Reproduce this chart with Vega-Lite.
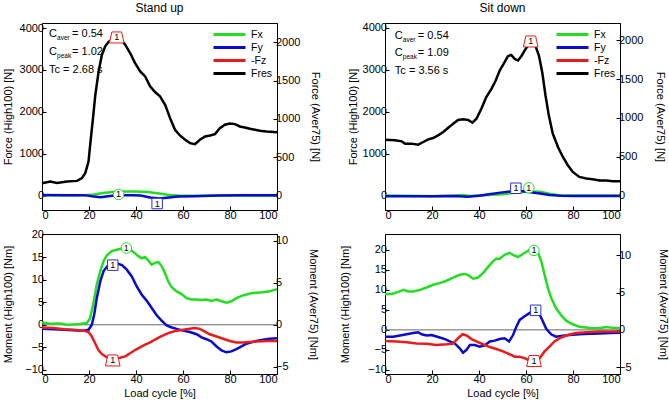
{
  "$schema": "https://vega.github.io/schema/vega-lite/v6.json",
  "padding": {"left": 1, "top": 1, "right": 0, "bottom": 0},
  "background": "white",
  "config": {
    "font": "Liberation Sans",
    "numberFormat": "d",
    "view": {"stroke": "black", "strokeWidth": 1},
    "axis": {"grid": false, "labelFontSize": 11, "titleFontSize": 11, "titleFontWeight": "normal", "labelColor": "black", "titleColor": "black", "domainColor": "black", "tickColor": "black", "tickSize": -4, "domainWidth": 1, "tickWidth": 1, "labelFont": "Liberation Sans", "titleFont": "Liberation Sans"},
    "axisX": {"labelPadding": 3, "titlePadding": 3},
    "axisY": {"labelPadding": 2.5},
    "legend": {"title": null, "orient": "top-right", "offset": 5, "symbolType": "stroke", "symbolSize": 1024, "symbolStrokeWidth": 3, "clipHeight": 13, "labelFontSize": 10.5, "labelFont": "Liberation Sans", "labelColor": "black", "padding": 0, "labelOffset": 4, "rowPadding": 0},
    "title": {"fontSize": 12, "fontWeight": "normal", "color": "black", "offset": 7, "font": "Liberation Sans"}
  },
  "datasets": {
    "fTL": [
      {"s":"Fx","x":0,"v":10},{"s":"Fx","x":10,"v":5},{"s":"Fx","x":18,"v":5},{"s":"Fx","x":22,"v":25},{"s":"Fx","x":26,"v":60},{"s":"Fx","x":30,"v":85},{"s":"Fx","x":35,"v":95},{"s":"Fx","x":40,"v":95},{"s":"Fx","x":45,"v":85},{"s":"Fx","x":50,"v":50},{"s":"Fx","x":54,"v":15},{"s":"Fx","x":58,"v":0},{"s":"Fx","x":65,"v":-5},{"s":"Fx","x":80,"v":0},{"s":"Fx","x":100,"v":0},
      {"s":"Fy","x":0,"v":15},{"s":"Fy","x":10,"v":10},{"s":"Fy","x":18,"v":10},{"s":"Fy","x":22,"v":-20},{"s":"Fy","x":25,"v":-40},{"s":"Fy","x":28,"v":-15},{"s":"Fy","x":32,"v":5},{"s":"Fy","x":38,"v":10},{"s":"Fy","x":42,"v":0},{"s":"Fy","x":46,"v":-45},{"s":"Fy","x":50,"v":-70},{"s":"Fy","x":54,"v":-45},{"s":"Fy","x":58,"v":-25},{"s":"Fy","x":65,"v":-15},{"s":"Fy","x":75,"v":0},{"s":"Fy","x":85,"v":5},{"s":"Fy","x":100,"v":5},
      {"s":"Fres","x":0,"v":295},{"s":"Fres","x":3.5,"v":335},{"s":"Fres","x":6.4,"v":300},{"s":"Fres","x":10.6,"v":335},{"s":"Fres","x":14.9,"v":350},{"s":"Fres","x":17,"v":415},{"s":"Fres","x":18.4,"v":534},{"s":"Fres","x":19.8,"v":813},{"s":"Fres","x":20.5,"v":1211},{"s":"Fres","x":21.7,"v":1849},{"s":"Fres","x":22.7,"v":2407},{"s":"Fres","x":24.1,"v":2965},{"s":"Fres","x":25.5,"v":3363},{"s":"Fres","x":26.9,"v":3563},{"s":"Fres","x":28.3,"v":3666},{"s":"Fres","x":29.7,"v":3722},{"s":"Fres","x":31.8,"v":3750},{"s":"Fres","x":34,"v":3700},{"s":"Fres","x":35.4,"v":3602},{"s":"Fres","x":37.5,"v":3403},{"s":"Fres","x":39.6,"v":3164},{"s":"Fres","x":41.8,"v":2965},{"s":"Fres","x":43.9,"v":2845},{"s":"Fres","x":46,"v":2606},{"s":"Fres","x":48.1,"v":2471},{"s":"Fres","x":50.2,"v":2367},{"s":"Fres","x":52.4,"v":2168},{"s":"Fres","x":54.5,"v":1849},{"s":"Fres","x":56.6,"v":1570},{"s":"Fres","x":58.7,"v":1435},{"s":"Fres","x":60.9,"v":1331},{"s":"Fres","x":63,"v":1251},{"s":"Fres","x":65.1,"v":1227},{"s":"Fres","x":67.2,"v":1331},{"s":"Fres","x":69.4,"v":1411},{"s":"Fres","x":71.5,"v":1435},{"s":"Fres","x":73.6,"v":1467},{"s":"Fres","x":75.7,"v":1610},{"s":"Fres","x":77.8,"v":1690},{"s":"Fres","x":79.9,"v":1721},{"s":"Fres","x":82.1,"v":1706},{"s":"Fres","x":84.2,"v":1650},{"s":"Fres","x":86.3,"v":1626},{"s":"Fres","x":88.5,"v":1594},{"s":"Fres","x":90.6,"v":1570},{"s":"Fres","x":92.7,"v":1546},{"s":"Fres","x":95.5,"v":1530},{"s":"Fres","x":100,"v":1514}
    ],
    "fTR": [
      {"s":"Fx","x":0,"v":0},{"s":"Fx","x":15,"v":-10},{"s":"Fx","x":20,"v":-15},{"s":"Fx","x":30,"v":0},{"s":"Fx","x":33,"v":10},{"s":"Fx","x":36,"v":-10},{"s":"Fx","x":40,"v":0},{"s":"Fx","x":50,"v":30},{"s":"Fx","x":56,"v":70},{"s":"Fx","x":62,"v":95},{"s":"Fx","x":66,"v":90},{"s":"Fx","x":70,"v":40},{"s":"Fx","x":74,"v":5},{"s":"Fx","x":80,"v":0},{"s":"Fx","x":100,"v":0},
      {"s":"Fy","x":0,"v":-15},{"s":"Fy","x":20,"v":-15},{"s":"Fy","x":30,"v":-10},{"s":"Fy","x":35,"v":-30},{"s":"Fy","x":40,"v":-5},{"s":"Fy","x":45,"v":35},{"s":"Fy","x":50,"v":75},{"s":"Fy","x":55,"v":110},{"s":"Fy","x":58,"v":110},{"s":"Fy","x":62,"v":80},{"s":"Fy","x":66,"v":50},{"s":"Fy","x":70,"v":10},{"s":"Fy","x":75,"v":-5},{"s":"Fy","x":80,"v":-10},{"s":"Fy","x":100,"v":-10},
      {"s":"Fres","x":0,"v":1331},{"s":"Fres","x":4.2,"v":1315},{"s":"Fres","x":7.1,"v":1291},{"s":"Fres","x":8.5,"v":1236},{"s":"Fres","x":11.3,"v":1236},{"s":"Fres","x":14.1,"v":1212},{"s":"Fres","x":16.3,"v":1275},{"s":"Fres","x":18.4,"v":1338},{"s":"Fres","x":20.5,"v":1370},{"s":"Fres","x":22.6,"v":1434},{"s":"Fres","x":24.8,"v":1513},{"s":"Fres","x":26.9,"v":1616},{"s":"Fres","x":29,"v":1711},{"s":"Fres","x":31.1,"v":1798},{"s":"Fres","x":33.2,"v":1814},{"s":"Fres","x":35.4,"v":1798},{"s":"Fres","x":37.2,"v":1734},{"s":"Fres","x":38.9,"v":1830},{"s":"Fres","x":41,"v":2067},{"s":"Fres","x":43.1,"v":2344},{"s":"Fres","x":45.3,"v":2542},{"s":"Fres","x":47.1,"v":2740},{"s":"Fres","x":48.8,"v":2978},{"s":"Fres","x":50.9,"v":3176},{"s":"Fres","x":52.3,"v":3318},{"s":"Fres","x":53.7,"v":3350},{"s":"Fres","x":55.2,"v":3255},{"s":"Fres","x":56.6,"v":3216},{"s":"Fres","x":58,"v":3318},{"s":"Fres","x":59.4,"v":3453},{"s":"Fres","x":60.8,"v":3572},{"s":"Fres","x":62.2,"v":3612},{"s":"Fres","x":64.1,"v":3556},{"s":"Fres","x":65.5,"v":3334},{"s":"Fres","x":66.9,"v":2938},{"s":"Fres","x":68.3,"v":2384},{"s":"Fres","x":69.7,"v":1909},{"s":"Fres","x":71.4,"v":1473},{"s":"Fres","x":73.6,"v":1156},{"s":"Fres","x":75.7,"v":919},{"s":"Fres","x":77.8,"v":721},{"s":"Fres","x":79.9,"v":562},{"s":"Fres","x":82.7,"v":443},{"s":"Fres","x":85.6,"v":404},{"s":"Fres","x":88.4,"v":388},{"s":"Fres","x":91.2,"v":356},{"s":"Fres","x":94.1,"v":356},{"s":"Fres","x":96.9,"v":341},{"s":"Fres","x":100,"v":341}
    ],
    "mBL": [
      {"s":"Mx","x":0,"v":0.52},{"s":"Mx","x":3.5,"v":0.22},{"s":"Mx","x":7.8,"v":0.3},{"s":"Mx","x":10.6,"v":0},{"s":"Mx","x":13.4,"v":0.07},{"s":"Mx","x":16.3,"v":0.15},{"s":"Mx","x":19.1,"v":0.37},{"s":"Mx","x":20.5,"v":1.5},{"s":"Mx","x":21.9,"v":4.8},{"s":"Mx","x":23.3,"v":8.9},{"s":"Mx","x":24.8,"v":11.9},{"s":"Mx","x":26.2,"v":14.1},{"s":"Mx","x":27.6,"v":15.4},{"s":"Mx","x":29.7,"v":16.3},{"s":"Mx","x":31.8,"v":16.6},{"s":"Mx","x":34,"v":16.9},{"s":"Mx","x":36.8,"v":16.9},{"s":"Mx","x":38.9,"v":16.1},{"s":"Mx","x":41,"v":15.2},{"s":"Mx","x":42.4,"v":14.7},{"s":"Mx","x":43.9,"v":15},{"s":"Mx","x":45.3,"v":14.2},{"s":"Mx","x":46.7,"v":13.3},{"s":"Mx","x":48.1,"v":13.7},{"s":"Mx","x":49.5,"v":13.9},{"s":"Mx","x":50.9,"v":13},{"s":"Mx","x":52.3,"v":11.5},{"s":"Mx","x":53.7,"v":9.6},{"s":"Mx","x":55.2,"v":8.3},{"s":"Mx","x":57.3,"v":7.4},{"s":"Mx","x":59.4,"v":6.8},{"s":"Mx","x":61.5,"v":5.9},{"s":"Mx","x":63.7,"v":5.6},{"s":"Mx","x":65.8,"v":5.6},{"s":"Mx","x":67.9,"v":5.5},{"s":"Mx","x":70,"v":5.6},{"s":"Mx","x":72.1,"v":5.3},{"s":"Mx","x":74.3,"v":5.6},{"s":"Mx","x":76.4,"v":5.2},{"s":"Mx","x":78.5,"v":4.9},{"s":"Mx","x":80.6,"v":5.2},{"s":"Mx","x":82.7,"v":5.9},{"s":"Mx","x":84.9,"v":6.4},{"s":"Mx","x":87,"v":6.7},{"s":"Mx","x":89.1,"v":7},{"s":"Mx","x":91.2,"v":7.1},{"s":"Mx","x":94.1,"v":7.2},{"s":"Mx","x":96.9,"v":7.4},{"s":"Mx","x":100,"v":7.9},
      {"s":"My","x":0,"v":-0.9},{"s":"My","x":5,"v":-1.0},{"s":"My","x":9.2,"v":-1.1},{"s":"My","x":13.4,"v":-1.2},{"s":"My","x":17.7,"v":-1.3},{"s":"My","x":19.8,"v":-1.1},{"s":"My","x":21.2,"v":0},{"s":"My","x":22.2,"v":2.2},{"s":"My","x":23.3,"v":5.9},{"s":"My","x":24.8,"v":9.6},{"s":"My","x":26.2,"v":11.9},{"s":"My","x":27.9,"v":13},{"s":"My","x":29.7,"v":13.5},{"s":"My","x":31.8,"v":13.6},{"s":"My","x":34,"v":13.2},{"s":"My","x":36.1,"v":12.2},{"s":"My","x":38.2,"v":10.7},{"s":"My","x":40.3,"v":8.5},{"s":"My","x":42.4,"v":6.7},{"s":"My","x":44.6,"v":5.3},{"s":"My","x":46.7,"v":3.7},{"s":"My","x":48.8,"v":2.1},{"s":"My","x":50.9,"v":0.9},{"s":"My","x":53,"v":-0.15},{"s":"My","x":55.2,"v":-0.6},{"s":"My","x":57.3,"v":-0.9},{"s":"My","x":60.1,"v":-1.3},{"s":"My","x":62.9,"v":-1.6},{"s":"My","x":65.8,"v":-2.1},{"s":"My","x":67.9,"v":-2.8},{"s":"My","x":70,"v":-3.2},{"s":"My","x":72.1,"v":-3.7},{"s":"My","x":74.3,"v":-4.8},{"s":"My","x":76.4,"v":-5.7},{"s":"My","x":78.5,"v":-6.1},{"s":"My","x":80.6,"v":-5.9},{"s":"My","x":82.7,"v":-5.4},{"s":"My","x":84.9,"v":-4.8},{"s":"My","x":87,"v":-4.2},{"s":"My","x":89.1,"v":-3.9},{"s":"My","x":91.2,"v":-3.6},{"s":"My","x":94.1,"v":-3.3},{"s":"My","x":96.9,"v":-3.1},{"s":"My","x":100,"v":-3.0},
      {"s":"Mz","x":0,"v":-0.6},{"s":"Mz","x":5,"v":-0.7},{"s":"Mz","x":9.2,"v":-1.0},{"s":"Mz","x":13.4,"v":-1.1},{"s":"Mz","x":17.7,"v":-1.3},{"s":"Mz","x":19.8,"v":-1.6},{"s":"Mz","x":21.2,"v":-2.6},{"s":"Mz","x":22.6,"v":-4.1},{"s":"Mz","x":24,"v":-5.6},{"s":"Mz","x":25.5,"v":-6.5},{"s":"Mz","x":27.6,"v":-7.2},{"s":"Mz","x":29.7,"v":-7.4},{"s":"Mz","x":33.2,"v":-7.3},{"s":"Mz","x":35.4,"v":-7.0},{"s":"Mz","x":37.5,"v":-6.3},{"s":"Mz","x":39.6,"v":-5.6},{"s":"Mz","x":41.7,"v":-5.0},{"s":"Mz","x":43.9,"v":-4.4},{"s":"Mz","x":46,"v":-3.9},{"s":"Mz","x":48.1,"v":-3.3},{"s":"Mz","x":50.2,"v":-2.7},{"s":"Mz","x":52.3,"v":-2.2},{"s":"Mz","x":54.5,"v":-1.7},{"s":"Mz","x":57.3,"v":-1.3},{"s":"Mz","x":60.1,"v":-1.1},{"s":"Mz","x":62.9,"v":-0.9},{"s":"Mz","x":65,"v":-0.7},{"s":"Mz","x":67.2,"v":-0.9},{"s":"Mz","x":69.3,"v":-1.5},{"s":"Mz","x":71.4,"v":-2.1},{"s":"Mz","x":74.3,"v":-2.6},{"s":"Mz","x":77.1,"v":-3.1},{"s":"Mz","x":79.9,"v":-3.6},{"s":"Mz","x":82.7,"v":-3.9},{"s":"Mz","x":85.6,"v":-3.9},{"s":"Mz","x":88.4,"v":-3.8},{"s":"Mz","x":91.2,"v":-3.7},{"s":"Mz","x":95.5,"v":-3.6},{"s":"Mz","x":100,"v":-3.6}
    ],
    "mBR": [
      {"s":"Mx","x":0,"v":9.0},{"s":"Mx","x":2.8,"v":9.0},{"s":"Mx","x":5.7,"v":9.5},{"s":"Mx","x":7.8,"v":10},{"s":"Mx","x":9.9,"v":9.6},{"s":"Mx","x":12,"v":9.6},{"s":"Mx","x":14.9,"v":10},{"s":"Mx","x":17.7,"v":10.6},{"s":"Mx","x":20.5,"v":11.3},{"s":"Mx","x":23.3,"v":11.7},{"s":"Mx","x":26.2,"v":12.3},{"s":"Mx","x":29,"v":13.1},{"s":"Mx","x":31.8,"v":13.8},{"s":"Mx","x":34,"v":14.0},{"s":"Mx","x":35.4,"v":13.7},{"s":"Mx","x":37.5,"v":12.8},{"s":"Mx","x":39.6,"v":13.1},{"s":"Mx","x":41.7,"v":14.2},{"s":"Mx","x":43.8,"v":15.7},{"s":"Mx","x":46,"v":17.2},{"s":"Mx","x":47.4,"v":17.8},{"s":"Mx","x":48.8,"v":17.8},{"s":"Mx","x":50.9,"v":18.8},{"s":"Mx","x":53,"v":19.3},{"s":"Mx","x":54.5,"v":18.8},{"s":"Mx","x":56.6,"v":18.2},{"s":"Mx","x":58.7,"v":19.0},{"s":"Mx","x":60.8,"v":19.8},{"s":"Mx","x":62.9,"v":20.4},{"s":"Mx","x":65.1,"v":19.3},{"s":"Mx","x":66.5,"v":17.2},{"s":"Mx","x":67.9,"v":13.8},{"s":"Mx","x":69.3,"v":10.5},{"s":"Mx","x":70.7,"v":8.0},{"s":"Mx","x":72.8,"v":5.4},{"s":"Mx","x":75,"v":3.6},{"s":"Mx","x":77.1,"v":2.3},{"s":"Mx","x":79.9,"v":1.4},{"s":"Mx","x":82.7,"v":0.8},{"s":"Mx","x":85.6,"v":0.6},{"s":"Mx","x":88.4,"v":0.4},{"s":"Mx","x":91.2,"v":0.4},{"s":"Mx","x":94.1,"v":0.7},{"s":"Mx","x":96.9,"v":0.5},{"s":"Mx","x":100,"v":0.4},
      {"s":"My","x":0,"v":-1.7},{"s":"My","x":3.5,"v":-1.7},{"s":"My","x":6.4,"v":-1.4},{"s":"My","x":9.2,"v":-1.1},{"s":"My","x":12,"v":-0.8},{"s":"My","x":14.1,"v":-0.6},{"s":"My","x":15.6,"v":-1.1},{"s":"My","x":17.7,"v":-1.4},{"s":"My","x":19.8,"v":-1.3},{"s":"My","x":22.6,"v":-1.8},{"s":"My","x":25.5,"v":-2.3},{"s":"My","x":27.6,"v":-2.9},{"s":"My","x":29.7,"v":-3.4},{"s":"My","x":31.8,"v":-4.6},{"s":"My","x":33.2,"v":-5.7},{"s":"My","x":34.7,"v":-5.0},{"s":"My","x":36.1,"v":-3.8},{"s":"My","x":38.2,"v":-3.8},{"s":"My","x":40.3,"v":-4.2},{"s":"My","x":42.4,"v":-3.9},{"s":"My","x":44.6,"v":-2.9},{"s":"My","x":46.7,"v":-2.7},{"s":"My","x":48.8,"v":-2.3},{"s":"My","x":50.9,"v":-2.1},{"s":"My","x":52.8,"v":-2.9},{"s":"My","x":54.5,"v":-1.3},{"s":"My","x":55.9,"v":0.8},{"s":"My","x":57.3,"v":2.5},{"s":"My","x":59.4,"v":3.4},{"s":"My","x":61.5,"v":4.2},{"s":"My","x":63.6,"v":5.0},{"s":"My","x":65.5,"v":4.2},{"s":"My","x":67.2,"v":2.1},{"s":"My","x":68.6,"v":0.25},{"s":"My","x":70.7,"v":-1.1},{"s":"My","x":72.8,"v":-1.7},{"s":"My","x":75.7,"v":-1.5},{"s":"My","x":78.5,"v":-1.3},{"s":"My","x":82.7,"v":-1.1},{"s":"My","x":87,"v":-1.0},{"s":"My","x":91.2,"v":-0.9},{"s":"My","x":95.5,"v":-0.8},{"s":"My","x":100,"v":-0.75},
      {"s":"Mz","x":0,"v":-2.8},{"s":"Mz","x":5,"v":-2.9},{"s":"Mz","x":9.2,"v":-3.1},{"s":"Mz","x":13.4,"v":-3.4},{"s":"Mz","x":17.7,"v":-3.5},{"s":"Mz","x":21.9,"v":-3.8},{"s":"Mz","x":26.2,"v":-3.6},{"s":"Mz","x":29,"v":-3.4},{"s":"Mz","x":31.1,"v":-2.1},{"s":"Mz","x":33,"v":-1.1},{"s":"Mz","x":34.7,"v":-1.4},{"s":"Mz","x":36.8,"v":-2.3},{"s":"Mz","x":38.9,"v":-2.9},{"s":"Mz","x":41.7,"v":-3.6},{"s":"Mz","x":44.6,"v":-4.3},{"s":"Mz","x":47.4,"v":-4.8},{"s":"Mz","x":50.2,"v":-5.4},{"s":"Mz","x":53,"v":-6.1},{"s":"Mz","x":55.2,"v":-6.7},{"s":"Mz","x":57.3,"v":-6.7},{"s":"Mz","x":59.4,"v":-7.1},{"s":"Mz","x":61.5,"v":-7.7},{"s":"Mz","x":63.6,"v":-8.0},{"s":"Mz","x":65.8,"v":-7.1},{"s":"Mz","x":67.9,"v":-5.4},{"s":"Mz","x":70,"v":-4.2},{"s":"Mz","x":72.1,"v":-2.9},{"s":"Mz","x":75,"v":-1.9},{"s":"Mz","x":77.8,"v":-1.3},{"s":"Mz","x":81.3,"v":-0.8},{"s":"Mz","x":85.6,"v":-0.6},{"s":"Mz","x":91.2,"v":-0.4},{"s":"Mz","x":100,"v":-0.4}
    ],
    "marks": [
      {"p":"TL","x":31.8,"v":3775,"k":"-Fz","lab":"1"},{"p":"TL","x":32.6,"v":26,"k":"Fx","lab":"1"},{"p":"TL","x":49,"v":-190,"k":"Fy","lab":"1"},
      {"p":"TR","x":62,"v":3670,"k":"-Fz","lab":"1"},{"p":"TR","x":55.7,"v":173,"k":"Fy","lab":"1"},{"p":"TR","x":61.2,"v":185,"k":"Fx","lab":"1"},
      {"p":"BL","x":35.9,"v":17.0,"k":"Mx","lab":"1"},{"p":"BL","x":30.1,"v":13.2,"k":"My","lab":"1"},{"p":"BL","x":30.1,"v":-7.9,"k":"Mz","lab":"1"},
      {"p":"BR","x":63.4,"v":19.9,"k":"Mx","lab":"1"},{"p":"BR","x":64.1,"v":4.9,"k":"My","lab":"1"},{"p":"BR","x":63.4,"v":-7.8,"k":"Mz","lab":"1"}
    ],
    "notes": [
      {"p":"TL","x":3,"v":3848,"main":"C","sub":"aver","rest":"= 0.54"},
      {"p":"TL","x":3,"v":3429,"main":"C","sub":"peak","rest":"= 1.02"},
      {"p":"TL","x":3,"v":3007,"main":"Tc  = 2.68 s","sub":"","rest":""},
      {"p":"TR","x":4.2,"v":3793,"main":"C","sub":"aver","rest":"= 0.54"},
      {"p":"TR","x":4.2,"v":3397,"main":"C","sub":"peak","rest":" = 1.09"},
      {"p":"TR","x":4.2,"v":2976,"main":"Tc = 3.56 s","sub":"","rest":""}
    ]
  },
  "bounds": "flush",
  "columns": 2,
  "spacing": {"row": 24, "column": 108},
  "resolve": {"scale": {"x": "independent", "y": "independent", "color": "independent", "shape": "independent", "stroke": "independent"}, "legend": {"color": "independent"}},
  "concat": [
    {
      "width": 235, "height": 187,
      "title": {"text": "Stand up"},
      "resolve": {"scale": {"y": "independent"}},
      "layer": [
        {"data": {"values": [{}]}, "mark": {"type": "rule", "opacity": 0}, "encoding": {"y": {"datum": 0, "type": "quantitative", "scale": {"domain": [-188, 2253], "nice": false, "zero": false}, "axis": {"orient": "right", "title": "Force (Aver75) [N]", "values": [0, 500, 1000, 1500, 2000], "titlePadding": 10}}}},
        {
          "encoding": {
            "x": {"field": "x", "type": "quantitative", "scale": {"domain": [0, 100], "nice": false}, "axis": {"values": [0, 20, 40, 60, 80, 100], "title": null}},
            "y": {"field": "v", "type": "quantitative", "scale": {"domain": [-345, 4120], "nice": false, "zero": false}, "axis": {"orient": "left", "title": "Force (High100) [N]", "values": [0, 1000, 2000, 3000, 4000], "titlePadding": 6}}
          },
          "layer": [
            {"data": {"name": "fTL"}, "mark": {"type": "line", "strokeWidth": 2.5}, "encoding": {"color": {"field": "s", "type": "nominal", "sort": null, "scale": {"domain": ["Fx", "Fy", "-Fz", "Fres"], "range": ["#22dd22", "#0a0acc", "#e81c1c", "#000000"]}}}},
            {"data": {"name": "marks"}, "transform": [{"filter": "datum.p == 'TL'"}], "mark": {"type": "point", "filled": true, "fill": "white", "opacity": 1, "size": 110, "strokeWidth": 1}, "encoding": {"shape": {"field": "k", "type": "nominal", "scale": {"domain": ["Fx", "Fy", "-Fz"], "range": ["circle", "square", "M-0.93,-1.05L0.93,-1.05L1.39,1.05L-1.39,1.05Z"]}, "legend": null}, "stroke": {"field": "k", "type": "nominal", "scale": {"domain": ["Fx", "Fy", "-Fz"], "range": ["#22dd22", "#3030cc", "#e81c1c"]}, "legend": null}}},
            {"data": {"name": "marks"}, "transform": [{"filter": "datum.p == 'TL'"}], "mark": {"type": "text", "fontSize": 9, "align": "center", "baseline": "middle", "color": "black"}, "encoding": {"text": {"field": "lab"}}},
            {"data": {"name": "notes"}, "transform": [{"filter": "datum.p == 'TL'"}], "mark": {"type": "text", "fontSize": 11, "align": "left", "baseline": "middle", "color": "black"}, "encoding": {"text": {"field": "main"}}},
            {"data": {"name": "notes"}, "transform": [{"filter": "datum.p == 'TL'"}], "mark": {"type": "text", "fontSize": 6.5, "align": "left", "baseline": "middle", "dx": 8, "dy": 4, "color": "black"}, "encoding": {"text": {"field": "sub"}}},
            {"data": {"name": "notes"}, "transform": [{"filter": "datum.p == 'TL'"}], "mark": {"type": "text", "fontSize": 11, "align": "left", "baseline": "middle", "dx": 23, "color": "black"}, "encoding": {"text": {"field": "rest"}}}
          ]
        }
      ]
    },
    {
      "width": 235, "height": 187,
      "title": {"text": "Sit down"},
      "resolve": {"scale": {"y": "independent"}},
      "layer": [
        {"data": {"values": [{}]}, "mark": {"type": "rule", "opacity": 0}, "encoding": {"y": {"datum": 0, "type": "quantitative", "scale": {"domain": [-186, 2222], "nice": false, "zero": false}, "axis": {"orient": "right", "title": "Force (Aver75) [N]", "values": [0, 500, 1000, 1500, 2000], "titlePadding": 12}}}},
        {
          "encoding": {
            "x": {"field": "x", "type": "quantitative", "scale": {"domain": [0, 100], "nice": false}, "axis": {"values": [0, 20, 40, 60, 80, 100], "title": null}},
            "y": {"field": "v", "type": "quantitative", "scale": {"domain": [-345, 4110], "nice": false, "zero": false}, "axis": {"orient": "left", "title": "Force (High100) [N]", "values": [0, 1000, 2000, 3000, 4000], "titlePadding": 3.5}}
          },
          "layer": [
            {"data": {"name": "fTR"}, "mark": {"type": "line", "strokeWidth": 2.5}, "encoding": {"color": {"field": "s", "type": "nominal", "sort": null, "scale": {"domain": ["Fx", "Fy", "-Fz", "Fres"], "range": ["#22dd22", "#0a0acc", "#e81c1c", "#000000"]}}}},
            {"data": {"name": "marks"}, "transform": [{"filter": "datum.p == 'TR'"}], "mark": {"type": "point", "filled": true, "fill": "white", "opacity": 1, "size": 110, "strokeWidth": 1}, "encoding": {"shape": {"field": "k", "type": "nominal", "scale": {"domain": ["Fx", "Fy", "-Fz"], "range": ["circle", "square", "M-0.93,-1.05L0.93,-1.05L1.39,1.05L-1.39,1.05Z"]}, "legend": null}, "stroke": {"field": "k", "type": "nominal", "scale": {"domain": ["Fx", "Fy", "-Fz"], "range": ["#22dd22", "#3030cc", "#e81c1c"]}, "legend": null}}},
            {"data": {"name": "marks"}, "transform": [{"filter": "datum.p == 'TR'"}], "mark": {"type": "text", "fontSize": 9, "align": "center", "baseline": "middle", "color": "black"}, "encoding": {"text": {"field": "lab"}}},
            {"data": {"name": "notes"}, "transform": [{"filter": "datum.p == 'TR'"}], "mark": {"type": "text", "fontSize": 11, "align": "left", "baseline": "middle", "color": "black"}, "encoding": {"text": {"field": "main"}}},
            {"data": {"name": "notes"}, "transform": [{"filter": "datum.p == 'TR'"}], "mark": {"type": "text", "fontSize": 6.5, "align": "left", "baseline": "middle", "dx": 8, "dy": 4, "color": "black"}, "encoding": {"text": {"field": "sub"}}},
            {"data": {"name": "notes"}, "transform": [{"filter": "datum.p == 'TR'"}], "mark": {"type": "text", "fontSize": 11, "align": "left", "baseline": "middle", "dx": 23, "color": "black"}, "encoding": {"text": {"field": "rest"}}}
          ]
        }
      ]
    },
    {
      "width": 235, "height": 140,
      "resolve": {"scale": {"y": "independent"}},
      "layer": [
        {"data": {"values": [{}]}, "mark": {"type": "rule", "color": "#666666", "strokeWidth": 1}, "encoding": {"y": {"datum": 0, "type": "quantitative", "scale": {"domain": [-5.86, 10.81], "nice": false, "zero": false}, "axis": {"orient": "right", "title": "Moment (Aver75) [Nm]", "values": [-5, 0, 5, 10], "titlePadding": 19}}}},
        {
          "encoding": {
            "x": {"field": "x", "type": "quantitative", "scale": {"domain": [0, 100], "nice": false}, "axis": {"values": [0, 20, 40, 60, 80, 100], "title": "Load cycle [%]"}},
            "y": {"field": "v", "type": "quantitative", "scale": {"domain": [-10.9, 20.1], "nice": false, "zero": false}, "axis": {"orient": "left", "title": "Moment (High100) [Nm]", "values": [-10, -5, 0, 5, 10, 15, 20], "titlePadding": 11}}
          },
          "layer": [
            {"data": {"name": "mBL"}, "mark": {"type": "line", "strokeWidth": 2.5}, "encoding": {"color": {"field": "s", "type": "nominal", "sort": null, "scale": {"domain": ["Mx", "My", "Mz"], "range": ["#22dd22", "#0a0acc", "#e81c1c"]}}}},
            {"data": {"name": "marks"}, "transform": [{"filter": "datum.p == 'BL'"}], "mark": {"type": "point", "filled": true, "fill": "white", "opacity": 1, "size": 110, "strokeWidth": 1}, "encoding": {"shape": {"field": "k", "type": "nominal", "scale": {"domain": ["Mx", "My", "Mz"], "range": ["circle", "square", "M-0.93,-1.05L0.93,-1.05L1.39,1.05L-1.39,1.05Z"]}, "legend": null}, "stroke": {"field": "k", "type": "nominal", "scale": {"domain": ["Mx", "My", "Mz"], "range": ["#22dd22", "#3030cc", "#e81c1c"]}, "legend": null}}},
            {"data": {"name": "marks"}, "transform": [{"filter": "datum.p == 'BL'"}], "mark": {"type": "text", "fontSize": 9, "align": "center", "baseline": "middle", "color": "black"}, "encoding": {"text": {"field": "lab"}}}
          ]
        }
      ]
    },
    {
      "width": 235, "height": 140,
      "resolve": {"scale": {"y": "independent"}},
      "layer": [
        {"data": {"values": [{}]}, "mark": {"type": "rule", "color": "#666666", "strokeWidth": 1}, "encoding": {"y": {"datum": 0, "type": "quantitative", "scale": {"domain": [-5.91, 12.84], "nice": false, "zero": false}, "axis": {"orient": "right", "title": "Moment (Aver75) [Nm]", "values": [-5, 0, 5, 10], "titlePadding": 26}}}},
        {
          "encoding": {
            "x": {"field": "x", "type": "quantitative", "scale": {"domain": [0, 100], "nice": false}, "axis": {"values": [0, 20, 40, 60, 80, 100], "title": "Load cycle [%]"}},
            "y": {"field": "v", "type": "quantitative", "scale": {"domain": [-11.05, 24.0], "nice": false, "zero": false}, "axis": {"orient": "left", "title": "Moment (High100) [Nm]", "values": [-10, -5, 0, 5, 10, 15, 20], "titlePadding": 17}}
          },
          "layer": [
            {"data": {"name": "mBR"}, "mark": {"type": "line", "strokeWidth": 2.5}, "encoding": {"color": {"field": "s", "type": "nominal", "sort": null, "scale": {"domain": ["Mx", "My", "Mz"], "range": ["#22dd22", "#0a0acc", "#e81c1c"]}}}},
            {"data": {"name": "marks"}, "transform": [{"filter": "datum.p == 'BR'"}], "mark": {"type": "point", "filled": true, "fill": "white", "opacity": 1, "size": 110, "strokeWidth": 1}, "encoding": {"shape": {"field": "k", "type": "nominal", "scale": {"domain": ["Mx", "My", "Mz"], "range": ["circle", "square", "M-0.93,-1.05L0.93,-1.05L1.39,1.05L-1.39,1.05Z"]}, "legend": null}, "stroke": {"field": "k", "type": "nominal", "scale": {"domain": ["Mx", "My", "Mz"], "range": ["#22dd22", "#3030cc", "#e81c1c"]}, "legend": null}}},
            {"data": {"name": "marks"}, "transform": [{"filter": "datum.p == 'BR'"}], "mark": {"type": "text", "fontSize": 9, "align": "center", "baseline": "middle", "color": "black"}, "encoding": {"text": {"field": "lab"}}}
          ]
        }
      ]
    }
  ]
}
